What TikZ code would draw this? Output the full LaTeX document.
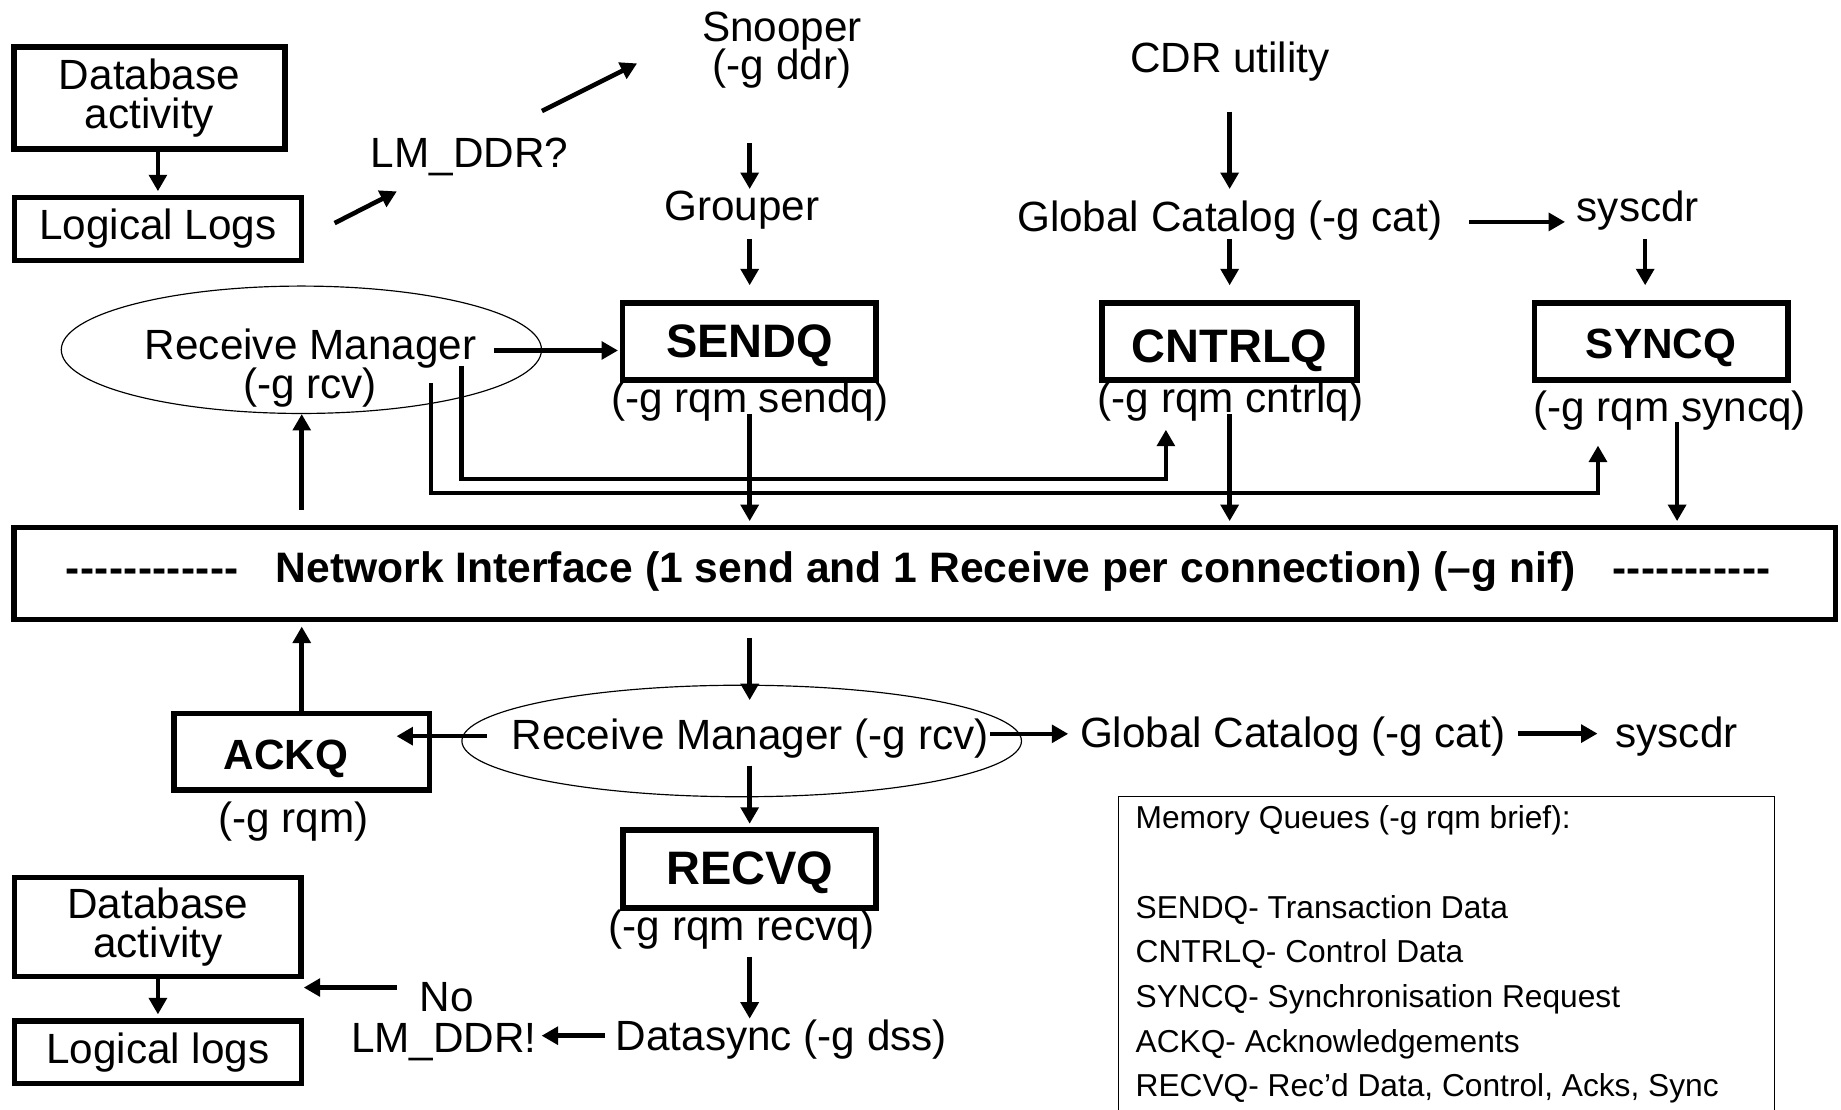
\documentclass[tikz,border=0pt]{standalone}
\usepackage{fontspec}
\setmainfont{Liberation Sans}
\usetikzlibrary{arrows.meta,shapes.geometric}
\newcommand\dsh{\mbox{-}}
\begin{document}
\begin{tikzpicture}[x=1pt,y=-1pt,
  lbl/.style={inner sep=0pt, anchor=base, font=\fontsize{36}{33}\selectfont},
  qbox/.style={draw, line width=4.8pt, inner sep=0pt},
  qname/.style={inner sep=0pt, anchor=base, font=\fontsize{40}{40}\selectfont\bfseries},
  sname/.style={inner sep=0pt, anchor=base, font=\fontsize{36}{36}\selectfont\bfseries},
  arr/.style={line width=3.9pt, -{Triangle[length=14pt,width=15pt]}},
  ell/.style={draw, ellipse, line width=1pt, inner sep=0pt},
  memo/.style={inner sep=0pt, anchor=base west, font=\fontsize{27}{27}\selectfont}]
\useasboundingbox (0,0) rectangle (1568,945);
\clip (0,0) rectangle (1568,945);

% ---------- top-left boxes ----------
\node[qbox, minimum width=231pt, minimum height=86.5pt, align=center,
      font=\fontsize{36}{33}\selectfont] (db1) at (127.3,83.5) {Database\\activity};
\node[qbox, minimum width=244.5pt, minimum height=53.5pt,
      font=\fontsize{36}{33}\selectfont] (ll1) at (134.5,195) {Logical Logs};

% ---------- labels ----------
\node[lbl] (lmddr) at (400,143) {LM\_DDR?};
\node[lbl] (snoop) at (666,35) {Snooper};
\node[lbl] (snoopg) at (666,68) {(-g ddr)};
\node[lbl] (grouper) at (632,188) {Grouper};
\node[lbl] (cdr) at (1047.5,62) {CDR utility};
\node[lbl] (gc1) at (1047.4,197.5) {Global Catalog (-g cat)};
\node[lbl] (sys1) at (1395,188.5) {syscdr};

% ---------- upper queues ----------
\node[qbox, minimum width=216pt, minimum height=65.5pt] (sendq) at (638.25,291) {};
\node[qname] (sendqt) at (638.5,304.5) {SENDQ};
\node[lbl] (sendql) at (638.5,351) {(-g rqm sendq)};

\node[qbox, minimum width=217pt, minimum height=65.5pt] (cntrlq) at (1047.3,291) {};
\node[qname] (cntrlqt) at (1047.3,309) {CNTRLQ};
\node[lbl] (cntrlql) at (1048,351) {(-g rqm cntrlq)};

\node[qbox, minimum width=215.7pt, minimum height=65.5pt] (syncq) at (1414.9,291) {};
\node[sname] (syncqt) at (1414.8,305) {SYNCQ};
\node[lbl] (syncql) at (1422,359) {(-g rqm syncq)};

% ---------- upper receive manager ----------
\node[ell, minimum width=409pt, minimum height=108.5pt] (rmE1) at (256.7,297.9) {};
\node[lbl] (rm1) at (264.5,306) {Receive Manager};
\node[lbl] (rm1g) at (264,339) {(-g rcv)};

% ---------- network interface ----------
\node[qbox, minimum width=1551.5pt, minimum height=78.5pt] (ni) at (787.5,488.5) {};
\node[sname, font=\fontsize{36.3}{36}\selectfont\bfseries] (nit) at (788.5,496) {Network Interface (1 send and 1 Receive per connection) (–g nif)};
\node[sname, anchor=base west] (nidl) at (56,496) {\dsh\kern0.3pt\dsh\kern0.3pt\dsh\kern0.3pt\dsh\kern0.3pt\dsh\kern0.3pt\dsh\kern0.3pt\dsh\kern0.3pt\dsh\kern0.3pt\dsh\kern0.3pt\dsh\kern0.3pt\dsh\kern0.3pt\dsh};
\node[sname, anchor=base west] (nidr) at (1373,496) {\dsh\kern0.3pt\dsh\kern0.3pt\dsh\kern0.3pt\dsh\kern0.3pt\dsh\kern0.3pt\dsh\kern0.3pt\dsh\kern0.3pt\dsh\kern0.3pt\dsh\kern0.3pt\dsh\kern0.3pt\dsh};

% ---------- lower part ----------
\node[qbox, minimum width=217.5pt, minimum height=65.4pt] (ackq) at (257,640.3) {};
\node[sname] (ackqt) at (243.5,655) {ACKQ};
\node[lbl] (ackql) at (250,709) {(-g rqm)};

\node[ell, minimum width=476.6pt, minimum height=95pt] (rmE2) at (631.7,631.1) {};
\node[lbl] (rm2) at (639,638) {Receive Manager (-g rcv)};
\node[lbl] (gc2) at (1101,637) {Global Catalog (-g cat)};
\node[lbl] (sys2) at (1428,637) {syscdr};

\node[qbox, minimum width=215.5pt, minimum height=66.4pt] (recvq) at (638.5,740.2) {};
\node[qname] (recvqt) at (638.5,753) {RECVQ};
\node[lbl] (recvql) at (631.5,801) {(-g rqm recvq)};
\node[lbl] (dsync) at (665.5,895) {Datasync (-g dss)};
\node[lbl] (no) at (380.6,861.6) {No};
\node[lbl] (lmddr2) at (378,896) {LM\_DDR!};

\node[qbox, minimum width=244pt, minimum height=84.5pt, align=center,
      font=\fontsize{36}{33}\selectfont] (db2) at (134.5,789.5) {Database\\activity};
\node[qbox, minimum width=244.5pt, minimum height=52.9pt,
      font=\fontsize{36}{33}\selectfont] (ll2) at (134.5,896.3) {Logical logs};

% ---------- memory queues legend ----------
\node[draw, line width=1pt, inner sep=0pt, anchor=north west,
      minimum width=559pt, minimum height=320pt] (memq) at (951.8,678) {};
\node[memo] (m0) at (967,706) {Memory Queues (-g rqm brief):};
\node[memo] (m1) at (967,782) {SENDQ- Transaction Data};
\node[memo] (m2) at (967,820) {CNTRLQ- Control Data};
\node[memo] (m3) at (967,858) {SYNCQ- Synchronisation Request};
\node[memo] (m4) at (967,896) {ACKQ- Acknowledgements};
\node[memo] (m5) at (967,934) {RECVQ- Rec’d Data, Control, Acks, Sync};

% ---------- coordinates for free arrow ends ----------
\coordinate (a2s) at (285,190);     \coordinate (a2e) at (338,163);
\coordinate (a3s) at (461.6,94.5);  \coordinate (a3e) at (542.6,54);
\coordinate (a4s) at (638.5,122);   \coordinate (a4e) at (638.5,161);
\coordinate (a5s) at (638.5,203.5); \coordinate (a5e) at (638.5,243);
\coordinate (a6s) at (1047.3,95);   \coordinate (a6e) at (1047.3,161);
\coordinate (a7s) at (1047.3,203.5);\coordinate (a7e) at (1047.3,243);
\coordinate (a8s) at (1251,189);    \coordinate (a8e) at (1333,189);
\coordinate (a9s) at (1401.2,203.5);\coordinate (a9e) at (1401.2,243);
\coordinate (a10s) at (421,298.5);
\coordinate (wAs) at (393,312);  \coordinate (wAy) at (393,408);  \coordinate (wAe) at (993,366);
\coordinate (wBs) at (367,326);  \coordinate (wBy) at (367,420);  \coordinate (wBe) at (1361,379.5);
\coordinate (a13s) at (638.5,353);
\coordinate (a14s) at (1047.3,353);
\coordinate (a15s) at (1428.4,359.5);
\coordinate (a16s) at (257,434);
\coordinate (a17s) at (638.5,543.5); \coordinate (a17e) at (638.5,596.3);
\coordinate (a19s) at (414.5,627);   \coordinate (a19e) at (337.7,627);
\coordinate (a20s) at (843.5,625);   \coordinate (a20e) at (909.8,625);
\coordinate (a21s) at (1292.8,624.8);\coordinate (a21e) at (1360.6,624.8);
\coordinate (a22s) at (638.5,652);
\coordinate (a23s) at (638.5,814.9); \coordinate (a23e) at (638.5,867.6);
\coordinate (a24s) at (514.9,882.1); \coordinate (a24e) at (461.3,882.1);
\coordinate (a25s) at (337.7,841.1); \coordinate (a25e) at (258.7,841.1);

% ---------- connectors ----------
\draw[arr, shorten >=3pt] (db1.south -| ll1.north) -- (ll1.north);
\draw[arr] (a2s) -- (a2e);
\draw[arr] (a3s) -- (a3e);
\draw[arr] (a4s) -- (a4e);
\draw[arr] (a5s) -- (a5e);
\draw[arr] (a6s) -- (a6e);
\draw[arr] (a7s) -- (a7e);
\draw[arr] (a8s) -- (a8e);
\draw[arr] (a9s) -- (a9e);
\draw[arr, shorten >=1.5pt] (a10s) -- (a10s -| sendq.west);
\draw[arr] (wAs) -- (wAy) -| (wAe);
\draw[arr] (wBs) -- (wBy) -| (wBe);
\draw[arr, shorten >=3pt] (a13s) -- (a13s |- ni.north);
\draw[arr, shorten >=3pt] (a14s) -- (a14s |- ni.north);
\draw[arr, shorten >=3pt] (a15s) -- (a15s |- ni.north);
\draw[arr] (a16s) -- (a16s |- rmE1.south);
\draw[arr] (a17s) -- (a17e);
\draw[arr, shorten >=3.5pt] (ackq.north) -- (ackq.north |- ni.south);
\draw[arr] (a19s) -- (a19e);
\draw[arr] (a20s) -- (a20e);
\draw[arr] (a21s) -- (a21e);
\draw[arr, shorten >=3pt] (a22s) -- (a22s |- recvq.north);
\draw[arr] (a23s) -- (a23e);
\draw[arr] (a24s) -- (a24e);
\draw[arr] (a25s) -- (a25e);
\draw[arr, shorten >=3.5pt] (db2.south) -- (ll2.north);
\end{tikzpicture}
\end{document}
